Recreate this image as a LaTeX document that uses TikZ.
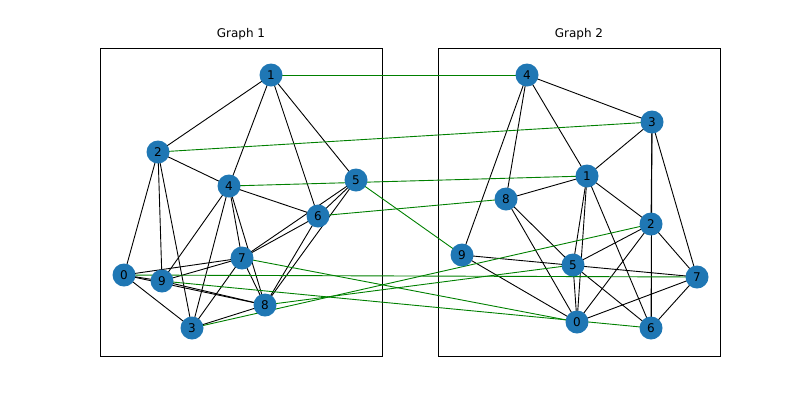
\documentclass[tikz,border=0pt]{standalone}
\usepackage{fontspec}
\setmainfont{DejaVu Sans}
\tikzset{
	main node/.style={circle,fill={rgb,255:red,31;green,119;blue,180},inner sep=0pt,minimum size=23pt,font=\fontsize{12}{12}\selectfont},
	cross edge/.style={draw={rgb,255:red,0;green,128;blue,0},line width=0.9pt},
	axes box/.style={draw,line width=0.7pt}
}
\begin{document}
\begin{tikzpicture}[x=1pt,y=-1pt,line width=0.9pt]
	\useasboundingbox (0,0) rectangle (800,400);
	\draw[axes box] (100,48) rectangle (382,356);
	\draw[axes box] (438,48) rectangle (720,356);
	\node[font=\fontsize{12}{12}\selectfont] (t1) at (241,34) {Graph 1};
	\node[font=\fontsize{12}{12}\selectfont] (t2) at (579,34) {Graph 2};
	% graph 1
	\foreach \n/\x/\y in {1/271/75,2/158/152,4/229/186,5/356/180,6/318/216,7/242/258,0/124/275,9/162/281,8/265/305,3/192/328}
		\coordinate (a\n) at (\x,\y);
	% graph 2
	\foreach \n/\x/\y in {4/527/75,3/652/122,1/587/176,8/506/199,2/651/224,9/462/255,5/573/265,7/697/277,0/577/322,6/651/328}
		\coordinate (b\n) at (\x,\y);
	\foreach \u/\v in {1/2,1/4,1/6,1/5,2/4,2/0,2/9,2/3,4/6,4/9,4/3,4/7,4/8,5/6,5/7,5/8,6/7,6/8,7/0,7/9,7/3,7/8,0/9,0/8,0/3,9/8,3/8}
		\draw (a\u) -- (a\v);
	\foreach \u/\v in {4/3,4/1,4/8,4/9,3/1,3/2,3/6,3/7,1/8,1/2,1/5,1/0,1/6,8/5,8/0,2/5,2/0,2/6,2/7,9/7,9/0,5/0,5/6,0/7,7/6}
		\draw (b\u) -- (b\v);
	\foreach \u/\v in {0/7,1/4,2/3,3/2,4/1,5/9,6/8,7/0,8/5,9/6}
		\draw[cross edge] (a\u) -- (b\v);
	\foreach \n in {0,...,9} {
		\node[main node] (n1\n) at (a\n) {\n};
		\node[main node] (n2\n) at (b\n) {\n};
	}
\end{tikzpicture}
\end{document}
